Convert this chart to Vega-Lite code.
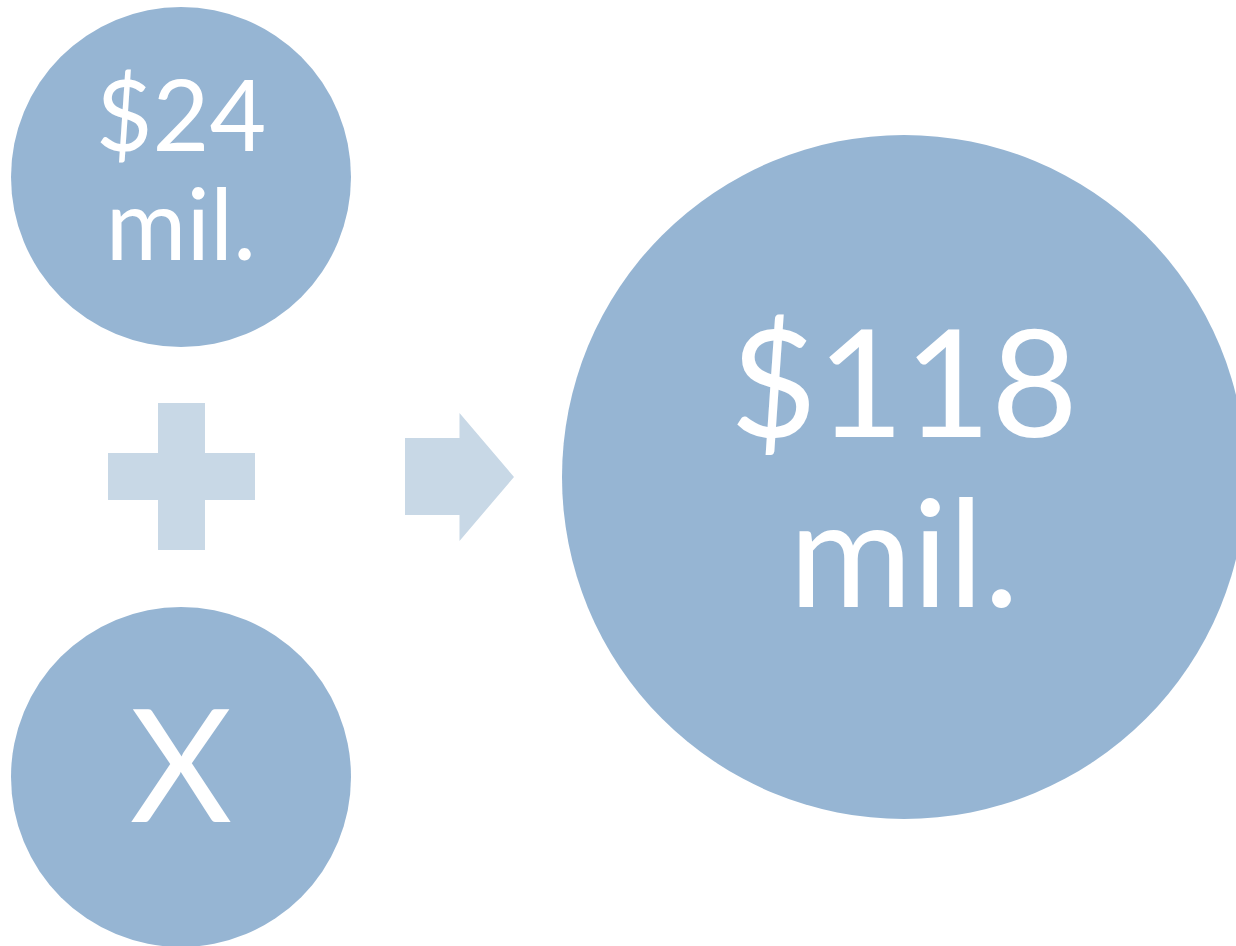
{
  "$schema": "https://vega.github.io/schema/vega-lite/v6.json",
  "width": 1236,
  "height": 946,
  "padding": 0,
  "autosize": {"type": "none"},
  "background": "#ffffff",
  "config": {"view": {"stroke": null}},
  "datasets": {
    "circles": [
      {"name": "A", "cx": 181, "cy": 177, "kind": "small"},
      {"name": "X", "cx": 181, "cy": 777, "kind": "small"},
      {"name": "Total", "cx": 904, "cy": 477, "kind": "big"}
    ],
    "plus": [
      {"part": "horizontal", "x0": 108, "x1": 255, "y0": 453, "y1": 500},
      {"part": "vertical", "x0": 158, "x1": 205, "y0": 403, "y1": 550}
    ],
    "arrow": [{"cx": 459.5, "cy": 477}],
    "labels": [
      {"text": "$24", "tx": 181, "ty": 151, "kind": "small"},
      {"text": "mil.", "tx": 181, "ty": 260, "kind": "small"},
      {"text": "X", "tx": 181, "ty": 822, "kind": "x"},
      {"text": "$118", "tx": 904, "ty": 437, "kind": "big"},
      {"text": "mil.", "tx": 904, "ty": 607, "kind": "big"}
    ]
  },
  "layer": [
    {
      "data": {"name": "circles"},
      "transform": [{"filter": "datum.kind === 'small'"}],
      "mark": {"type": "point", "shape": "circle", "filled": true, "size": 115600, "color": "#96B5D3", "opacity": 1},
      "encoding": {
        "x": {"field": "cx", "type": "quantitative", "scale": {"domain": [0, 1236]}, "axis": null},
        "y": {"field": "cy", "type": "quantitative", "scale": {"domain": [0, 946], "reverse": true}, "axis": null}
      }
    },
    {
      "data": {"name": "circles"},
      "transform": [{"filter": "datum.kind === 'big'"}],
      "mark": {"type": "point", "shape": "circle", "filled": true, "size": 467856, "color": "#96B5D3", "opacity": 1},
      "encoding": {
        "x": {"field": "cx", "type": "quantitative", "scale": {"domain": [0, 1236]}, "axis": null},
        "y": {"field": "cy", "type": "quantitative", "scale": {"domain": [0, 946], "reverse": true}, "axis": null}
      }
    },
    {
      "data": {"name": "plus"},
      "mark": {"type": "rect", "color": "#C8D8E6"},
      "encoding": {
        "x": {"field": "x0", "type": "quantitative", "scale": {"domain": [0, 1236]}, "axis": null},
        "x2": {"field": "x1"},
        "y": {"field": "y0", "type": "quantitative", "scale": {"domain": [0, 946], "reverse": true}, "axis": null},
        "y2": {"field": "y1"}
      }
    },
    {
      "data": {"name": "arrow"},
      "mark": {"type": "point", "filled": true, "opacity": 1, "color": "#C8D8E6", "size": 16384,
        "shape": "M-0.8516,-0.6094L0,-0.6094L0,-1L0.8516,0L0,1L0,0.5938L-0.8516,0.5938Z"},
      "encoding": {
        "x": {"field": "cx", "type": "quantitative", "scale": {"domain": [0, 1236]}, "axis": null},
        "y": {"field": "cy", "type": "quantitative", "scale": {"domain": [0, 946], "reverse": true}, "axis": null}
      }
    },
    {
      "data": {"name": "labels"},
      "transform": [{"filter": "datum.kind === 'small'"}],
      "mark": {"type": "text", "color": "#ffffff", "font": "Lato", "fontSize": 98, "align": "center", "baseline": "alphabetic"},
      "encoding": {
        "x": {"field": "tx", "type": "quantitative", "scale": {"domain": [0, 1236]}, "axis": null},
        "y": {"field": "ty", "type": "quantitative", "scale": {"domain": [0, 946], "reverse": true}, "axis": null},
        "text": {"field": "text"}
      }
    },
    {
      "data": {"name": "labels"},
      "transform": [{"filter": "datum.kind === 'big'"}],
      "mark": {"type": "text", "color": "#ffffff", "font": "Lato", "fontSize": 150, "align": "center", "baseline": "alphabetic"},
      "encoding": {
        "x": {"field": "tx", "type": "quantitative", "scale": {"domain": [0, 1236]}, "axis": null},
        "y": {"field": "ty", "type": "quantitative", "scale": {"domain": [0, 946], "reverse": true}, "axis": null},
        "text": {"field": "text"}
      }
    },
    {
      "data": {"name": "labels"},
      "transform": [{"filter": "datum.kind === 'x'"}],
      "mark": {"type": "text", "color": "#ffffff", "font": "Lato", "fontSize": 158, "align": "center", "baseline": "alphabetic"},
      "encoding": {
        "x": {"field": "tx", "type": "quantitative", "scale": {"domain": [0, 1236]}, "axis": null},
        "y": {"field": "ty", "type": "quantitative", "scale": {"domain": [0, 946], "reverse": true}, "axis": null},
        "text": {"field": "text"}
      }
    }
  ]
}
